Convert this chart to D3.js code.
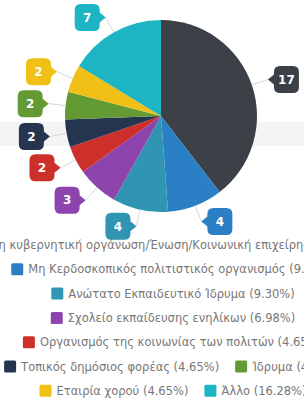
<!DOCTYPE html>
<html>
<head>
<meta charset="utf-8">
<script src="https://cdn.jsdelivr.net/npm/d3@7"></script>
<style>
  html, body { margin: 0; padding: 0; background: #fff; overflow: hidden; }
  svg { display: block; font-family: "DejaVu Sans", "Open Sans", sans-serif; }
</style>
</head>
<body>
<svg id="chart" width="304" height="407"></svg>
<script>
// data
const categories = [
  "Μη κυβερνητική οργάνωση/Ένωση/Κοινωνική επιχείρηση",
  "Μη Κερδοσκοπικός πολιτιστικός οργανισμός",
  "Ανώτατο Εκπαιδευτικό Ίδρυμα",
  "Σχολείο εκπαίδευσης ενηλίκων",
  "Οργανισμός της κοινωνίας των πολιτών",
  "Τοπικός δημόσιος φορέας",
  "Ίδρυμα",
  "Εταιρία χορού",
  "Άλλο"
];
const counts = [17, 4, 4, 3, 2, 2, 2, 2, 7];
const colors = ["#3b4146", "#2b80c5", "#2f95b3", "#8d45ad", "#cd302b", "#25344f", "#639a34", "#f0c016", "#1db4c3"];

const W = 304, H = 407;
const cx = 161, cy = 116, R = 96;

const svg = d3.select("#chart");

// faint grey band behind the pie
svg.append("rect")
  .attr("x", 0).attr("y", 122)
  .attr("width", W).attr("height", 24)
  .attr("fill", "#f4f4f4");

const total = d3.sum(counts);
const data = categories.map((c, i) => ({ name: c, value: counts[i], color: colors[i] }));

const pie = d3.pie().sort(null).value(d => d.value);
const arcs = pie(data);
const arc = d3.arc().innerRadius(0).outerRadius(R);

const g = svg.append("g").attr("transform", `translate(${cx},${cy})`);

g.selectAll("path.slice")
  .data(arcs)
  .enter()
  .append("path")
  .attr("class", "slice")
  .attr("d", arc)
  .attr("fill", d => d.data.color);

// callout labels
const tipR = 113;
const bw = 25, bh = 27, pr = 6, pw = 6;
const mid = d => (d.startAngle + d.endAngle) / 2;

arcs.forEach(d => {
  const a = mid(d);
  const ex = Math.sin(a) * R, ey = -Math.cos(a) * R;
  const tx = Math.sin(a) * tipR, ty = -Math.cos(a) * tipR;
  const right = Math.sin(a) > 0;
  // leader line
  g.append("line")
    .attr("x1", ex).attr("y1", ey)
    .attr("x2", tx).attr("y2", ty)
    .attr("stroke", "#d8d8d8")
    .attr("stroke-width", 1);
  // box with pointer
  const x0 = right ? tx + pw : tx - pw - bw;
  const x1 = x0 + bw;
  const y0 = ty - bh / 2, y1 = ty + bh / 2;
  const p = d3.path();
  p.moveTo(x0 + pr, y0);
  p.lineTo(x1 - pr, y0);
  p.quadraticCurveTo(x1, y0, x1, y0 + pr);
  if (!right) { p.lineTo(x1, ty - 5); p.lineTo(tx, ty); p.lineTo(x1, ty + 5); }
  p.lineTo(x1, y1 - pr);
  p.quadraticCurveTo(x1, y1, x1 - pr, y1);
  p.lineTo(x0 + pr, y1);
  p.quadraticCurveTo(x0, y1, x0, y1 - pr);
  if (right) { p.lineTo(x0, ty + 5); p.lineTo(tx, ty); p.lineTo(x0, ty - 5); }
  p.lineTo(x0, y0 + pr);
  p.quadraticCurveTo(x0, y0, x0 + pr, y0);
  p.closePath();
  g.append("path").attr("d", p.toString()).attr("fill", d.data.color);
  g.append("text")
    .attr("x", (x0 + x1) / 2).attr("y", ty)
    .attr("dy", "0.36em")
    .attr("text-anchor", "middle")
    .attr("font-size", 12)
    .attr("font-weight", "bold")
    .attr("fill", "#fff")
    .text(d.data.value);
});

// legend: centered flow layout, wider than the visible crop
const fmt = d3.format(".2f");
const legW = 420, legCx = 173, rowY0 = 245, rowH = 24.3;
const sw = 12, gap = 5, itemGap = 16;

const leg = svg.append("g");
const items = data.map(d => {
  const it = leg.append("g");
  it.append("rect").attr("width", sw).attr("height", sw).attr("rx", 1.5)
    .attr("y", -sw / 2).attr("fill", d.color);
  const t = it.append("text")
    .attr("x", sw + gap).attr("dy", "0.35em")
    .attr("font-size", 11.5)
    .attr("fill", "#777")
    .text(`${d.name} (${fmt(d.value / total * 100)}%)`);
  return { g: it, w: sw + gap + t.node().getComputedTextLength() };
});

const rows = [];
let cur = [], curW = 0;
items.forEach(it => {
  const add = (cur.length ? itemGap : 0) + it.w;
  if (cur.length && curW + add > legW) { rows.push({ items: cur, w: curW }); cur = []; curW = 0; }
  curW += (cur.length ? itemGap : 0) + it.w;
  cur.push(it);
});
if (cur.length) rows.push({ items: cur, w: curW });

rows.forEach((row, r) => {
  let x = legCx - row.w / 2;
  row.items.forEach(it => {
    it.g.attr("transform", `translate(${x},${rowY0 + r * rowH})`);
    x += it.w + itemGap;
  });
});
</script>
</body>
</html>
